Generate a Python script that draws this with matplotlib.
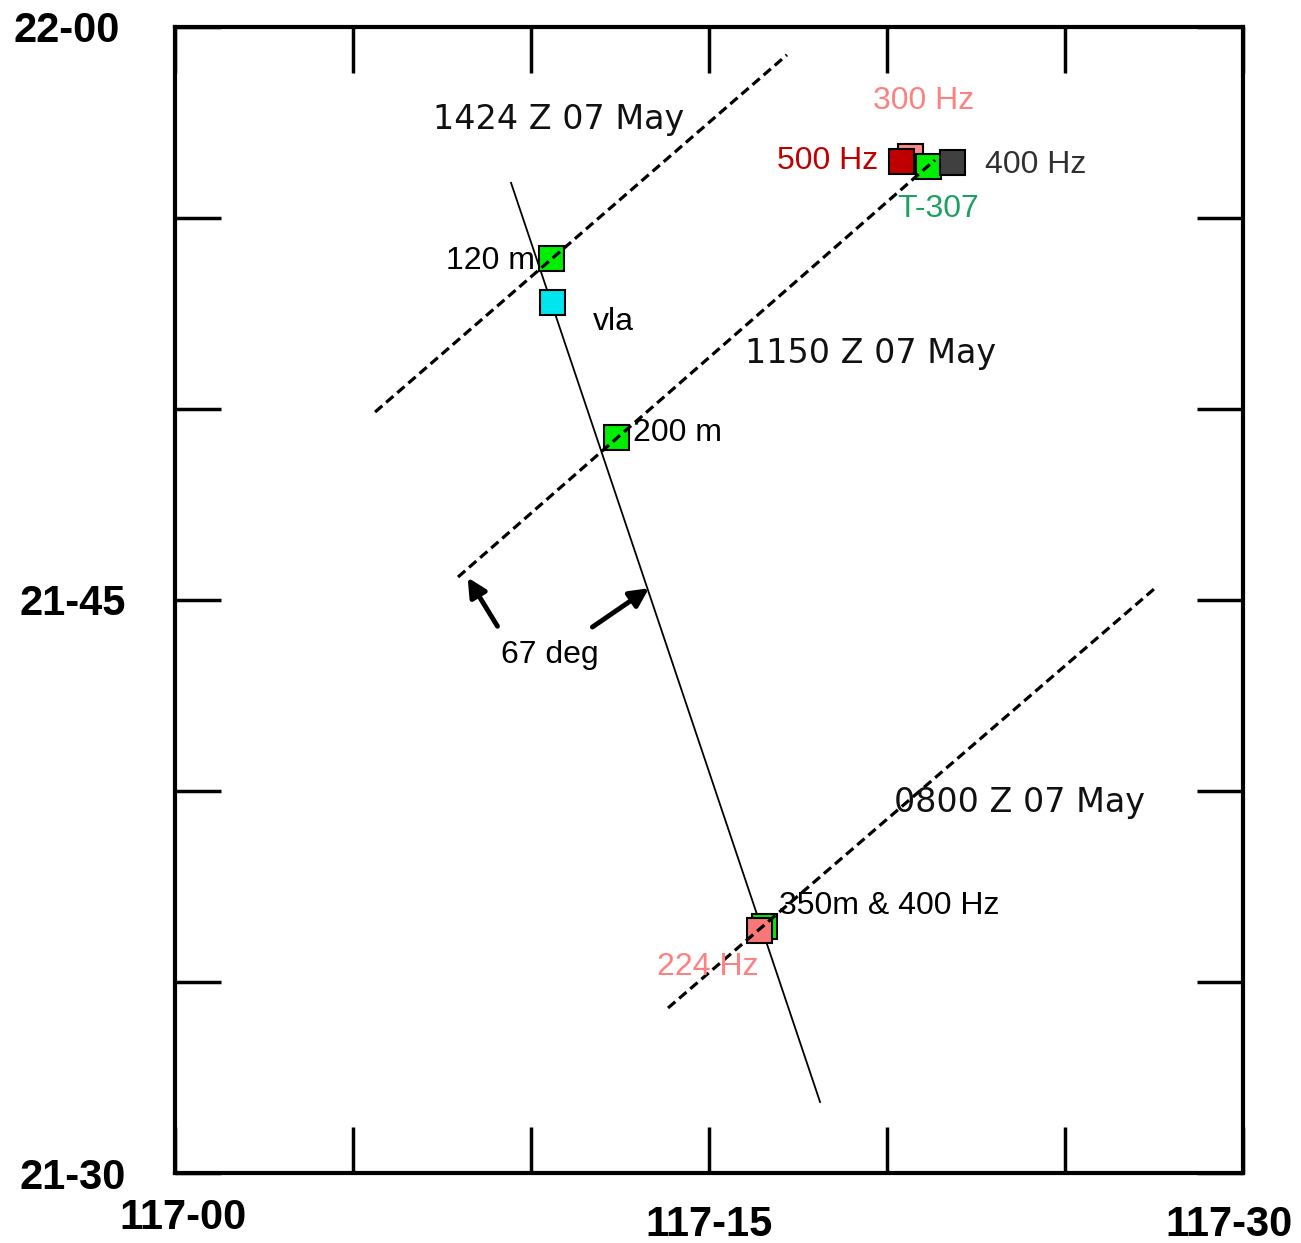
import matplotlib.pyplot as plt
from matplotlib.transforms import ScaledTranslation

# positions in minutes past 117-00 E (x) and past 21-30 N (y)
track_lon = [9.44, 18.12]
track_lat = [25.92, 1.86]

front_names = ['1424 Z 07 May', '1150 Z 07 May', '0800 Z 07 May']
front_lon = [[5.62, 17.19], [7.95, 21.35], [13.85, 27.53]]
front_lat = [[19.92, 29.27], [15.60, 26.52], [4.32, 15.31]]

# station squares (drawn in this order)
sq_lon = [10.56, 10.59, 12.39, 20.65, 21.15, 20.39, 21.83, 16.55, 16.40]
sq_lat = [23.95, 22.80, 19.27, 26.62, 26.36, 26.49, 26.47, 6.47, 6.36]
sq_color = ['#00ee00', '#00e5ee', '#00ee00', '#ff8c8c', '#00ee00',
            '#c00000', '#404040', '#00ee00', '#f87878']

lab_text = ['120 m', 'vla', '200 m', '300 Hz', '500 Hz', '400 Hz', 'T-307',
            '350m & 400 Hz', '224 Hz', '67 deg']
lab_lon = [7.6, 11.75, 12.87, 19.6, 16.9, 22.75, 20.3, 16.97, 13.54, 9.15]
lab_lat = [23.87, 22.27, 19.37, 28.06, 26.49, 26.39, 25.24, 7.0, 5.4, 13.55]
lab_color = ['black', 'black', 'black', '#ff8080', '#c00000', '#303030',
             '#20a060', 'black', '#ff8080', 'black']

front_lab_lon = [7.25, 16.0, 20.2]
front_lab_lat = [27.59, 21.45, 9.7]

xtick_pos = [0, 5, 10, 15, 20, 25, 30]
xtick_lab = ['117-00', '', '', '117-15', '', '', '117-30']
ytick_pos = [0, 5, 10, 15, 20, 25, 30]
ytick_lab = ['21-30', '', '', '21-45', '', '', '22-00']

fig = plt.figure(figsize=(13.01, 12.43), dpi=100)
ax = fig.add_axes([0.1345, 0.0563, 0.8209, 0.922])
ax.set_xlim(0, 30)
ax.set_ylim(0, 30)

ax.plot(track_lon, track_lat, color='black', lw=1.3, zorder=2)

for lo, la in zip(front_lon, front_lat):
    ax.plot(lo, la, color='black', lw=2.3, dashes=(3, 1.6), zorder=4)

for lo, la, c in zip(sq_lon, sq_lat, sq_color):
    ax.plot(lo, la, marker='s', ms=18, mfc=c, mec='black', mew=1.5,
            ls='none', zorder=3)

for t, lo, la, c in zip(lab_text, lab_lon, lab_lat, lab_color):
    ax.text(lo, la, t, color=c, fontsize=23, family='Liberation Sans',
            va='center', ha='left', zorder=5)

for t, lo, la in zip(front_names, front_lab_lon, front_lab_lat):
    ax.text(lo, la, t, fontsize=24, family='DejaVu Sans', va='center',
            ha='left', color='#111111', zorder=5)

# 67 deg arrows
ax.annotate('', xy=(8.18, 15.65), xytext=(9.1, 14.25),
            arrowprops=dict(arrowstyle='-|>', lw=3.5, color='black',
                            mutation_scale=28))
ax.annotate('', xy=(13.38, 15.35), xytext=(11.66, 14.25),
            arrowprops=dict(arrowstyle='-|>', lw=3.5, color='black',
                            mutation_scale=28))

for s in ax.spines.values():
    s.set_linewidth(3)

ax.set_xticks(xtick_pos)
ax.set_xticklabels(xtick_lab, fontsize=30, fontweight='bold',
                   family='Liberation Sans')
ax.set_yticks(ytick_pos)
ax.set_yticklabels(ytick_lab, fontsize=30, fontweight='bold',
                   family='Liberation Sans')
ax.tick_params(axis='both', direction='in', length=33, width=2.5,
               top=True, right=True)
ax.tick_params(axis='x', pad=19)
ax.tick_params(axis='y', pad=35)

# nudge the end labels as in the original drawing (offsets in points)
xshift = {0: (6, 1), 3: (0, -4), 6: (-10, -4)}
for i, lab in enumerate(ax.get_xticklabels()):
    if i in xshift:
        dx, dy = xshift[i]
        lab.set_transform(lab.get_transform() +
                          ScaledTranslation(dx / 72, dy / 72, fig.dpi_scale_trans))
yl = ax.get_yticklabels()[6]
yl.set_transform(yl.get_transform() +
                 ScaledTranslation(-5 / 72, 0, fig.dpi_scale_trans))

fig.savefig('out.png', dpi=100)
